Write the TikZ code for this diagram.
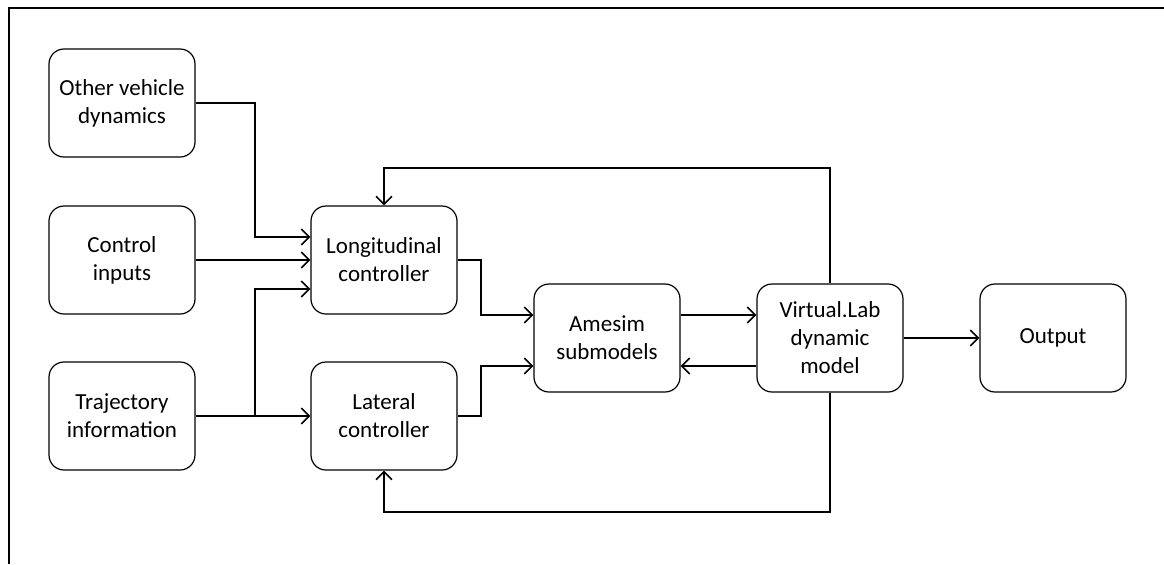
\documentclass[tikz,border=0pt]{standalone}
\usepackage{fontspec}
\setmainfont{Carlito}
\usetikzlibrary{arrows.meta}

\begin{document}
\begin{tikzpicture}[x=0.5pt,y=-0.5pt]
			\tikzstyle{block}= [
				rectangle, rounded corners = 7.5pt, draw = black, line width = 0.6pt,
				align = center, inner sep = 0pt, minimum width = 73pt, minimum height = 54pt,
				font = \fontsize{11.5}{14}\selectfont
			]
			\tikzstyle{line}=[-,draw=black,line width=0.8pt,>={Straight Barb[length=4pt,width=8pt]}]
			\useasboundingbox (0,0) rectangle (1164,564);
			\draw[line] (9,564) -- (9,8) -- (1164,8);
			\node[block] (ovd) at (122,103) {Other vehicle\\dynamics};
			\node[block] (ci) at (122,260) {Control\\inputs};
			\node[block] (ti) at (122,416) {Trajectory\\information};
			\node[block] (lon) at (384,260) {Longitudinal\\controller};
			\node[block] (lat) at (384,416) {Lateral\\controller};
			\node[block] (ame) at (607,338) {Amesim\\submodels};
			\node[block] (vl) at (830,338) {Virtual.Lab\\dynamic\\model};
			\node[block] (out) at (1053,338) {Output};
			\draw (ovd.east) -| (255,237) -- (lon.west |- 255,237) [line,->];
			\draw (ci.east) to (lon.west) [line,->];
			\draw (ti.east) to (lat.west) [line,->];
			\draw (ti.east) -| (255,289) -- (lon.west |- 255,289) [line,->];
			\draw (lon.east) -| (481,315) -- (ame.west |- 481,315) [line,->];
			\draw (lat.east) -| (481,366) -- (ame.west |- 481,366) [line,->];
			\draw (ame.east |- 0,315) to (vl.west |- 0,315) [line,->];
			\draw (vl.west |- 0,366) to (ame.east |- 0,366) [line,->];
			\draw (vl.east) to (out.west) [line,->];
			\draw (vl.north) |- (384,168) -- (lon.north) [line,->];
			\draw (vl.south) |- (384,512) -- (lat.south) [line,->];
		\end{tikzpicture}
\end{document}
